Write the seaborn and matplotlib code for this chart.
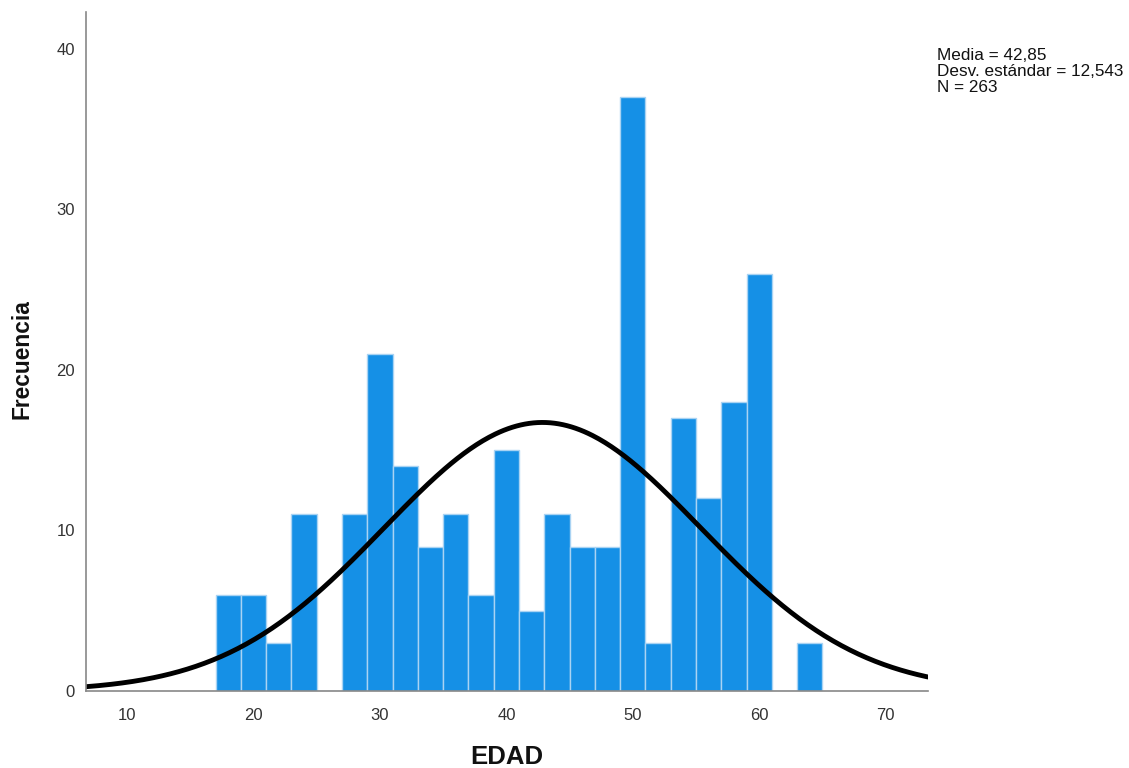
import numpy as np
import pandas as pd
import matplotlib
matplotlib.use("Agg")
import matplotlib.pyplot as plt
import seaborn as sns

# histogram data (bins of width 2 starting at 17)
bin_edges = [17, 19, 21, 23, 25, 27, 29, 31, 33, 35, 37, 39, 41, 43, 45, 47, 49, 51, 53, 55, 57, 59, 61, 63, 65]
counts = [6, 6, 3, 11, 0, 11, 21, 14, 9, 11, 6, 15, 5, 11, 9, 9, 37, 3, 17, 12, 18, 26, 0, 3]
media = 42.85
desv = 12.543
n_total = 263
x_ticks = [10, 20, 30, 40, 50, 60, 70]
y_ticks = [0, 10, 20, 30, 40]

centers = [(a + b) / 2 for a, b in zip(bin_edges[:-1], bin_edges[1:])]
df = pd.DataFrame({"EDAD": centers, "n": counts})

sns.set_style("white")
plt.rcParams['font.family'] = ['Liberation Sans', 'DejaVu Sans']

fig = plt.figure(figsize=(11.29, 7.68), dpi=100)
ax = fig.add_axes([0.0762, 0.1003, 0.7458, 0.884])

sns.histplot(data=df, x="EDAD", weights="n", bins=bin_edges, ax=ax,
             color="#1590E6", alpha=1, edgecolor="#A9D3F3", linewidth=1)

# normal curve from the reported statistics
xmin, xmax = 6.75, 73.35
xs = np.linspace(xmin, xmax, 400)
bw = bin_edges[1] - bin_edges[0]
ys = n_total * bw / (desv * np.sqrt(2 * np.pi)) * np.exp(-0.5 * ((xs - media) / desv) ** 2)
sns.lineplot(x=xs, y=ys, ax=ax, color="black", linewidth=3.5)

ax.set_xlim(xmin, xmax)
ax.set_ylim(0, 42.3)
ax.set_xticks(x_ticks)
ax.set_yticks(y_ticks)
ax.tick_params(axis="both", length=0, labelsize=12, colors="#333333")
ax.tick_params(axis="x", pad=12)
ax.tick_params(axis="y", pad=8)
sns.despine(ax=ax)
for s in ["left", "bottom"]:
    ax.spines[s].set_color("#888888")
    ax.spines[s].set_linewidth(1.2)

ax.set_xlabel("")
ax.set_ylabel("")
fig.text(507 / 1129, 1 - 757 / 768, "EDAD", ha="center", va="center",
         fontsize=18.5, fontweight="bold", color="#111111")
fig.text(22 / 1129, 1 - 359 / 768, "Frecuencia", ha="center", va="center",
         rotation=90, fontsize=16.4, fontweight="bold", color="#111111")

fig.text(937 / 1129, 1 - 48 / 768,
         "Media = 42,85\nDesv. estándar = 12,543\nN = 263",
         ha="left", va="top", fontsize=12.3, linespacing=1.08, color="#111111")

fig.savefig("out.png", dpi=100)
